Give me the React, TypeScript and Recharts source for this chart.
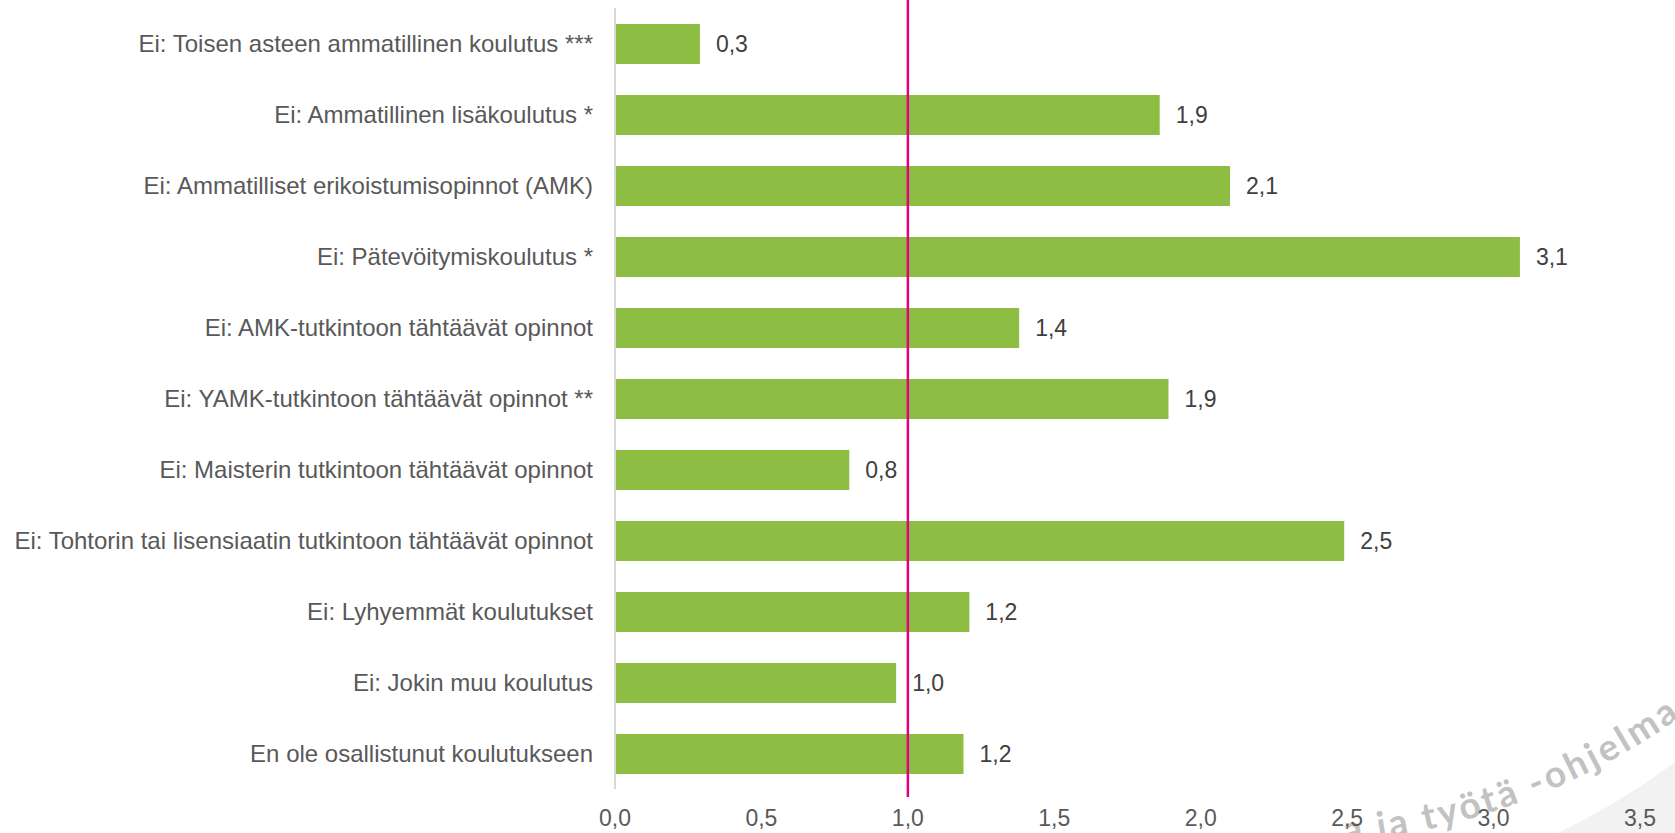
import React from 'react';
import { BarChart, Bar, XAxis, YAxis, ReferenceLine, LabelList } from 'recharts';

const categories: string[] = [
  'Ei: Toisen asteen ammatillinen koulutus ***',
  'Ei: Ammatillinen lisäkoulutus *',
  'Ei: Ammatilliset erikoistumisopinnot (AMK)',
  'Ei: Pätevöitymiskoulutus *',
  'Ei: AMK-tutkintoon tähtäävät opinnot',
  'Ei: YAMK-tutkintoon tähtäävät opinnot **',
  'Ei: Maisterin tutkintoon tähtäävät opinnot',
  'Ei: Tohtorin tai lisensiaatin tutkintoon tähtäävät opinnot',
  'Ei: Lyhyemmät koulutukset',
  'Ei: Jokin muu koulutus',
  'En ole osallistunut koulutukseen',
];

const values: number[] = [0.29, 1.86, 2.1, 3.09, 1.38, 1.89, 0.8, 2.49, 1.21, 0.96, 1.19];

const xTicks: number[] = [0, 0.5, 1, 1.5, 2, 2.5, 3, 3.5];

const referenceValue = 1;

const watermarkText = 'a ja työtä -ohjelma';

const data = categories.map((name, i) => ({ name, value: values[i] }));

const FONT = '"Liberation Sans", Arial, sans-serif';
const fmt = (v: number) => v.toFixed(1).replace('.', ',');

const YTick = (props: any) => {
  const { x, y, payload } = props;
  return (
    <text x={x} y={y} dy="0.355em" textAnchor="end" fill="#595959" fontSize={24} fontFamily={FONT}>
      {payload.value}
    </text>
  );
};

const RefShape = (p: any) => {
  const top = Math.min(p.y1, p.y2);
  const bot = Math.max(p.y1, p.y2);
  return <line x1={p.x1} x2={p.x2} y1={top - 9} y2={bot + 8} stroke="#E5007E" strokeWidth={2.5} />;
};

const Watermark = () => {
  const cx = 1275;
  const cy = 146.5;
  const r = 700;
  const a0 = (100 * Math.PI) / 180;
  const a1 = (40 * Math.PI) / 180;
  const sx = cx + r * Math.cos(a0);
  const sy = cy + r * Math.sin(a0);
  const ex = cx + r * Math.cos(a1);
  const ey = cy + r * Math.sin(a1);
  return (
    <svg width={1675} height={833} style={{ position: 'absolute', left: 0, top: 0 }}>
      <path d="M 1675 762 Q 1622 802 1558 833 L 1675 833 Z" fill="#F2F2F2" />
      <defs>
        <path id="wmArc" d={`M ${sx} ${sy} A ${r} ${r} 0 0 0 ${ex} ${ey}`} />
      </defs>
      <text fontFamily="Lato, sans-serif" fontWeight={700} fontSize={37} fill="#C2C2C2" letterSpacing={3.2}>
        <textPath href="#wmArc" startOffset={192}>{watermarkText}</textPath>
      </text>
    </svg>
  );
};

export default function App() {
  return (
    <div style={{ position: 'absolute', left: 0, top: 0, width: 1675, height: 833, background: '#fff', overflow: 'hidden' }}>
      <Watermark />
      <div style={{ position: 'absolute', left: 0, top: 0 }}>
        <BarChart
          width={1675}
          height={833}
          data={data}
          layout="vertical"
          margin={{ top: 8, right: 35, bottom: 0, left: 0 }}
          barSize={40}
        >
          <XAxis
            type="number"
            domain={[0, 3.5]}
            ticks={xTicks}
            height={44}
            axisLine={false}
            tickLine={false}
            tickSize={6}
            tickMargin={15}
            tickFormatter={fmt}
            tick={{ fill: '#595959', fontSize: 23, fontFamily: FONT }}
            interval={0}
          />
          <YAxis
            type="category"
            dataKey="name"
            width={615}
            axisLine={{ stroke: '#D9D9D9', strokeWidth: 2 }}
            tickLine={false}
            tickSize={0}
            tickMargin={22}
            tick={<YTick />}
            interval={0}
          />
          <Bar dataKey="value" fill="#8DBE43" isAnimationActive={false}>
            <LabelList
              dataKey="value"
              position="right"
              offset={16}
              formatter={(v: any) => fmt(Number(v))}
              fill="#404040"
              fontSize={23}
              fontFamily={FONT}
            />
          </Bar>
          <ReferenceLine x={referenceValue} shape={<RefShape />} />
        </BarChart>
      </div>
    </div>
  );
}
